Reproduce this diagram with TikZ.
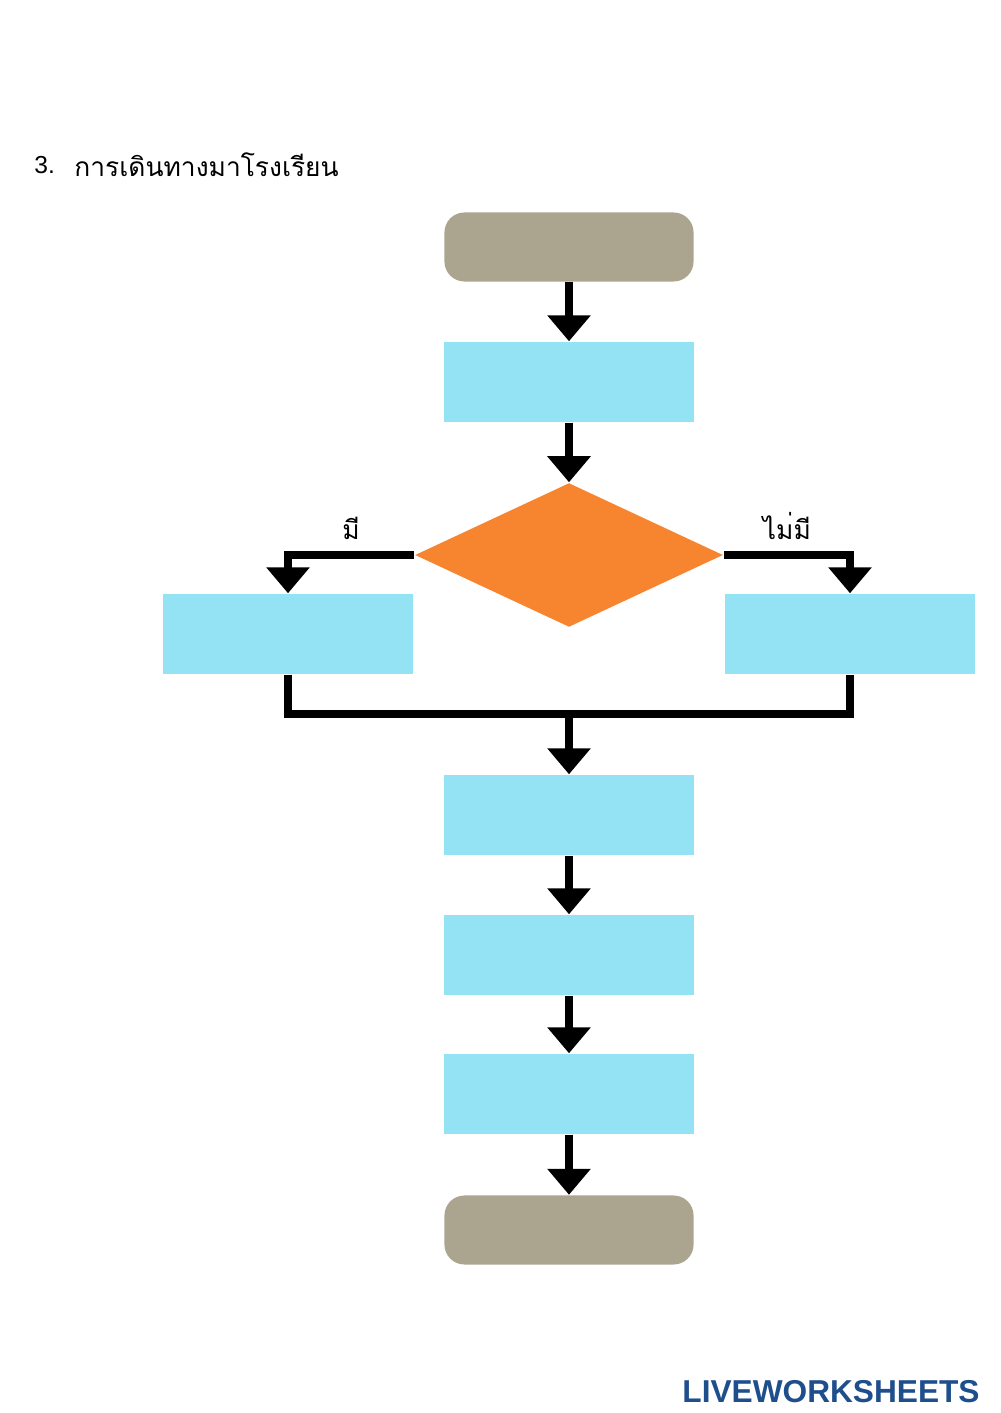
\documentclass[tikz,border=0pt]{standalone}
\usepackage{fontspec}
\setmainfont{Liberation Sans}
\IfFontExistsTF{Loma}{\newfontfamily\thai{Loma}}{\newfontfamily\thai{Liberation Sans}}
\usetikzlibrary{arrows.meta,shapes.geometric,positioning}
\definecolor{termgray}{HTML}{ABA48F}
\definecolor{boxblue}{HTML}{94E3F5}
\definecolor{decorange}{HTML}{F7852F}
\definecolor{lwblue}{HTML}{1F4E8C}
\tikzset{
  term/.style={draw=none, fill=termgray, rounded corners=0.2cm, minimum width=2.49cm, minimum height=0.69cm},
  procbox/.style={draw=none, fill=boxblue, minimum width=2.49cm, minimum height=0.8cm},
  dec/.style={draw=none, fill=decorange, diamond, minimum width=3.08cm, minimum height=1.44cm, inner sep=0pt},
  flow/.style={line width=2.3pt, -{Triangle[length=0.26cm,width=0.42cm]}},
  link/.style={line width=2.3pt}
}
\begin{document}
\begin{tikzpicture}[x=0.01cm,y=-0.01cm]
			\useasboundingbox (0,0) rectangle (1000,1413);
			%title
			\node[anchor=west, font=\fontsize{7}{8}\selectfont] (num) at (22,165) {3.};
			\node[anchor=west, font=\thai\fontsize{7.5}{9}\selectfont] (title) at (62,165) {การเดินทางมาโรงเรียน};
			
			%nodes
			\node[term] (start) at (569,247) {};
			\node[procbox] (s1) at (569,382) {};
			\node[dec]  (d)  at (569,555) {};
			\node[procbox] (yes) at (288,634) {};
			\node[procbox] (no)  at (850,634) {};
			\node[procbox] (s2) at (569,815) {};
			\node[procbox] (s3) at (569,955) {};
			\node[procbox] (s4) at (569,1094) {};
			\node[term] (stop) at (569,1230) {};
			\coordinate (join) at (569,714);
			
			\draw[flow] (start) -- (s1);
			\draw[flow] (s1) -- (d);
			\draw[flow] (d.west) -| node[pos=0.25, above, font=\thai\fontsize{7.5}{9}\selectfont]{มี} (yes.north);
			\draw[flow] (d.east) -| node[pos=0.25, above, font=\thai\fontsize{7.5}{9}\selectfont]{ไม่มี} (no.north);
			\draw[link] (yes.south) |- (join) -| (no.south);
			\draw[flow] (join) -- (s2);
			\draw[flow] (s2) -- (s3);
			\draw[flow] (s3) -- (s4);
			\draw[flow] (s4) -- (stop);
			
			\node[anchor=east, font=\bfseries\fontsize{9}{10}\selectfont, text=lwblue] (logo) at (992,1392) {LIVEWORKSHEETS};
\end{tikzpicture}
\end{document}
